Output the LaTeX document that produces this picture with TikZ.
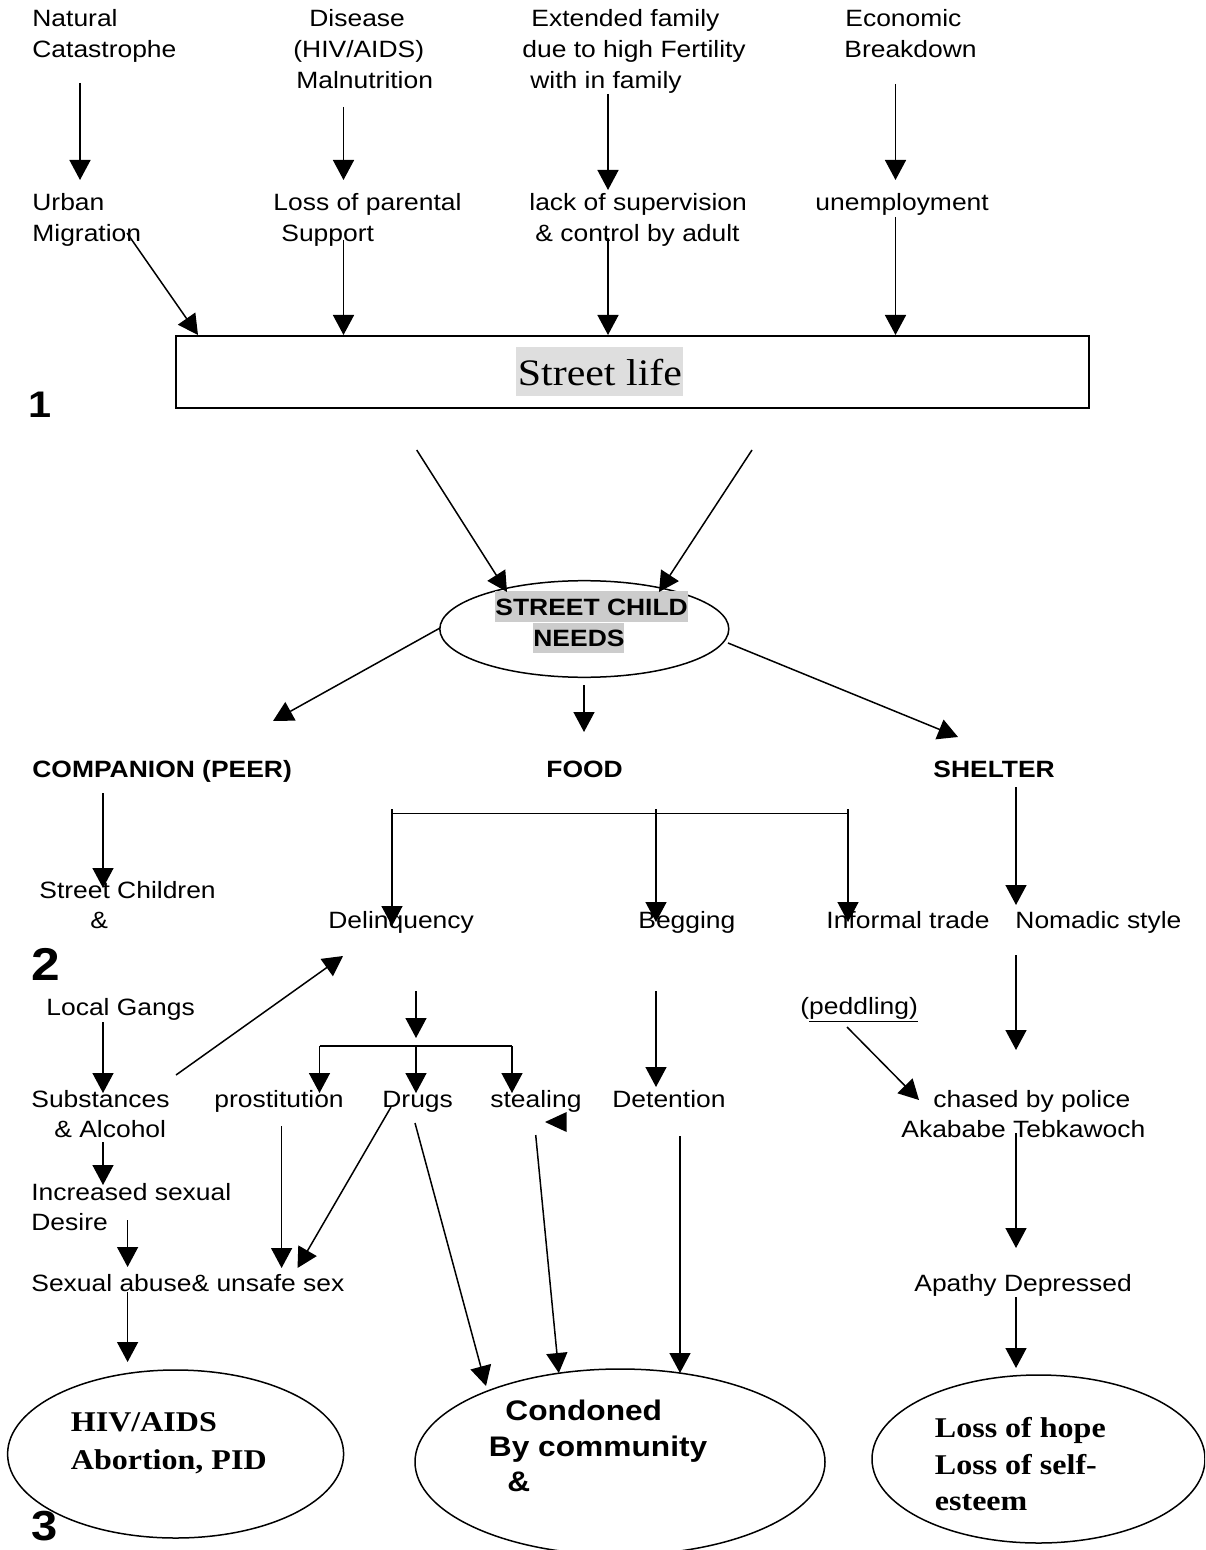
\documentclass[tikz,border=0pt]{standalone}
\usepackage{fontspec}
\usetikzlibrary{arrows.meta,shapes.geometric}
\newfontfamily\sansf{Liberation Sans}[FakeStretch=1.12]
\newfontfamily\serff{Liberation Serif}[FakeStretch=1.12]
\definecolor{hlight}{RGB}{222,222,222}
\definecolor{hdark}{RGB}{204,204,204}

\begin{document}
\begin{tikzpicture}[x=0.5pt,y=-0.5pt,
  lab/.style={anchor=base west,inner sep=0pt,font=\sansf\fontsize{11.8}{14}\selectfont},
  head/.style={anchor=base west,inner sep=0pt,font=\sansf\bfseries\fontsize{11.8}{14}\selectfont},
  big/.style={anchor=base west,inner sep=0pt,font=\serff\bfseries\fontsize{14.3}{17}\selectfont},
  bigsans/.style={anchor=base west,inner sep=0pt,font=\sansf\bfseries\fontsize{14.15}{17}\selectfont},
  num/.style={anchor=base west,inner sep=0pt},
  conn/.style={line width=0.75pt,-{Triangle[width=10.5pt,length=10pt]}},
  plain/.style={line width=0.75pt},
  outcome/.style={draw,ellipse,line width=0.75pt,inner sep=0pt}
]
\useasboundingbox (0,0) rectangle (1205,1550);
\fill[white] (0,0) rectangle (1205,1550);
\clip (0,0) rectangle (1205,1550);

% ---------- causes ----------
\node[lab] (nat1) at (32,26.5) {Natural};
\node[lab] (nat2) at (32,57.5) {Catastrophe};
\node[lab] (dis1) at (309,26.5) {Disease};
\node[lab] (dis2) at (293,57.5) {(HIV/AIDS)};
\node[lab] (dis3) at (296,88.5) {Malnutrition};
\node[lab] (ext1) at (531,26.5) {Extended family};
\node[lab] (ext2) at (522,57.5) {due to high Fertility};
\node[lab] (ext3) at (530,88.5) {with in family};
\node[lab] (eco1) at (845,26.5) {Economic};
\node[lab] (eco2) at (844,57.5) {Breakdown};

\node[lab] (urb1) at (32,211) {Urban};
\node[lab] (urb2) at (32,242) {Migration};
\node[lab] (los1) at (273,211) {Loss of parental};
\node[lab] (los2) at (281,242) {Support};
\node[lab] (lac1) at (529,211) {lack of supervision};
\node[lab] (lac2) at (535,242) {\& control by adult};
\node[lab] (une) at (815,211) {unemployment};

\path (80,83) coordinate (natOut) (80,180) coordinate (urbIn)
      (343.5,107) coordinate (disOut) (343.5,180) coordinate (losIn)
      (608,94) coordinate (extOut) (608,190) coordinate (lacIn)
      (895.5,84) coordinate (ecoOut) (895.5,180) coordinate (uneIn);
\draw[conn] (natOut) -- (urbIn);
\draw[conn] (disOut) -- (losIn);
\draw[conn] (extOut) -- (lacIn);
\draw[conn] (ecoOut) -- (uneIn);

% ---------- street life ----------
\node[draw,line width=1pt,minimum width=456.5pt,minimum height=36pt,inner sep=0pt]
  (box) at (632.5,372) {};
\node[anchor=base west,inner xsep=0.75pt,inner ysep=0pt,fill=hlight,
  text height=19.5pt,text depth=5pt,font=\serff\fontsize{18.7}{20}\selectfont]
  (sl) at (516,386) {Street life};
\node[num,font=\sansf\bfseries\fontsize{18.5}{20}\selectfont] (n1) at (28.5,418) {1};

\path (127,233) coordinate (urbOut) (198,335) coordinate (boxA)
      (343.5,240) coordinate (losOut) (343.5,335) coordinate (boxB)
      (608,238) coordinate (lacOut) (608,335) coordinate (boxC)
      (895.5,217) coordinate (uneOut) (895.5,335) coordinate (boxD);
\draw[conn] (urbOut) -- (boxA);
\draw[conn] (losOut) -- (boxB);
\draw[conn] (lacOut) -- (boxC);
\draw[conn] (uneOut) -- (boxD);

% ---------- needs ----------
\node[outcome,minimum width=144.5pt,minimum height=48.3pt] (needs) at (584.3,629) {};
\node[anchor=base west,inner sep=0pt,fill=hdark,text height=12.25pt,text depth=3.5pt,
  font=\sansf\bfseries\fontsize{11.8}{14}\selectfont] (scn1) at (495,615) {STREET CHILD};
\node[anchor=base west,inner sep=0pt,fill=hdark,text height=11.75pt,text depth=3.25pt,
  font=\sansf\bfseries\fontsize{11.8}{14}\selectfont] (scn2) at (533,646.5) {NEEDS};

\path (416.7,450) coordinate (boxL) (507,592) coordinate (needsL)
      (752,450) coordinate (boxR) (659,592) coordinate (needsR);
\draw[conn] (boxL) -- (needsL);
\draw[conn] (boxR) -- (needsR);

\node[head] (comp) at (32,777) {COMPANION (PEER)};
\node[head] (food) at (546,777) {FOOD};
\node[head] (shel) at (933,777) {SHELTER};

\path (440,628) coordinate (needsW) (273,721) coordinate (compIn)
      (584,685) coordinate (needsS) (584,732) coordinate (foodIn)
      (728,643) coordinate (needsE) (958,737) coordinate (shelIn);
\draw[conn] (needsW) -- (compIn);
\draw[conn] (needsS) -- (foodIn);
\draw[conn] (needsE) -- (shelIn);

% ---------- companion branch ----------
\node[lab] (sc1) at (39,898) {Street Children};
\node[lab] (sc2) at (90,928) {\&};
\node[num,font=\sansf\bfseries\fontsize{23}{25}\selectfont] (n2) at (31,980) {2};
\node[lab] (gang) at (46,1015) {Local Gangs};
\node[lab] (subs1) at (31,1107) {Substances};
\node[lab] (subs2) at (54,1137.5) {\& Alcohol};
\node[lab] (inc1) at (31,1200) {Increased sexual};
\node[lab] (inc2) at (31,1230) {Desire};
\node[lab] (abuse) at (31,1291.5) {Sexual abuse\& unsafe sex};

\path (103,793) coordinate (compOut) (103,888) coordinate (scIn)
      (103,1022) coordinate (gangOut) (103,1093) coordinate (subsIn)
      (103,1142) coordinate (subsOut) (103,1185) coordinate (incIn)
      (127.6,1220) coordinate (incOut) (127.6,1267) coordinate (abuseIn)
      (127.6,1292) coordinate (abuseOut) (127.6,1362) coordinate (hivIn)
      (176,1075) coordinate (subsNE) (343,956) coordinate (delqIn);
\draw[conn] (compOut) -- (scIn);
\draw[conn] (gangOut) -- (subsIn);
\draw[conn] (subsOut) -- (incIn);
\draw[conn] (incOut) -- (abuseIn);
\draw[conn] (abuseOut) -- (hivIn);
\draw[conn] (subsNE) -- (delqIn);

% ---------- food branch ----------
\node[lab] (delq) at (328,928) {Delinquency};
\node[lab] (beg) at (638,928) {Begging};
\node[lab] (inf) at (826,928) {Informal trade};
\node[lab] (ped) at (800,1014) {(\underline{peddling)}};

\path (392,813.5) coordinate (fbL) (656,813.5) coordinate (fbM) (848,813.5) coordinate (fbR)
      (392,809) coordinate (fbLt) (656,809) coordinate (fbMt) (848,809) coordinate (fbRt)
      (392,926) coordinate (delqTop) (656,922) coordinate (begTop) (848,922) coordinate (infTop);
\draw[plain] (fbL) -- (fbR);
\draw[conn] (fbLt) -- (delqTop);
\draw[conn] (fbMt) -- (begTop);
\draw[conn] (fbRt) -- (infTop);

\node[lab] (pros) at (214,1107) {prostitution};
\node[lab] (drug) at (382,1107) {Drugs};
\node[lab] (steal) at (490,1107) {stealing};
\node[lab] (det) at (612,1107) {Detention};

\path (416,991) coordinate (delqOut) (416,1038) coordinate (dbIn)
      (319.5,1046) coordinate (dbL) (416,1046) coordinate (dbM) (512,1046) coordinate (dbR)
      (319.5,1093) coordinate (prosIn) (416,1093) coordinate (drugIn) (512,1093) coordinate (stealIn);
\draw[conn] (delqOut) -- (dbIn);
\draw[plain] (dbL) -- (dbR);
\draw[conn] (dbL) -- (prosIn);
\draw[conn] (dbM) -- (drugIn);
\draw[conn] (dbR) -- (stealIn);

% loose arrow head beside "stealing"
\fill (545,1122) -- (566.6,1112) -- (566.6,1132) -- cycle;

\path (656,991) coordinate (begOut) (656,1087) coordinate (detIn)
      (281.6,1126) coordinate (prosOut) (281.6,1268) coordinate (abuseA)
      (391,1107) coordinate (drugSW) (297.5,1268) coordinate (abuseB)
      (415,1123) coordinate (drugS) (486,1386) coordinate (condA)
      (535.7,1135) coordinate (stealS) (558.8,1373) coordinate (condB)
      (680,1136) coordinate (detOut) (680,1373) coordinate (condC);
\draw[conn] (begOut) -- (detIn);
\draw[conn] (prosOut) -- (abuseA);
\draw[conn] (drugSW) -- (abuseB);
\draw[conn] (drugS) -- (condA);
\draw[conn] (stealS) -- (condB);
\draw[conn] (detOut) -- (condC);

% ---------- shelter branch ----------
\node[lab] (nom) at (1015,928) {Nomadic style};
\node[lab] (chase1) at (933,1107) {chased by police};
\node[lab] (chase2) at (901,1137.5) {Akababe Tebkawoch};
\node[lab] (apa) at (914,1291.5) {Apathy Depressed};

\path (1016,787) coordinate (shelOut) (1016,905) coordinate (nomIn)
      (1016,955) coordinate (nomOut) (1016,1050) coordinate (chaseIn)
      (847,1027) coordinate (pedOut) (919,1100) coordinate (chaseW)
      (1016,1133) coordinate (chaseOut) (1016,1248) coordinate (apaIn)
      (1016,1297) coordinate (apaOut) (1016,1368) coordinate (hopeIn);
\draw[conn] (shelOut) -- (nomIn);
\draw[conn] (nomOut) -- (chaseIn);
\draw[conn] (pedOut) -- (chaseW);
\draw[conn] (chaseOut) -- (apaIn);
\draw[conn] (apaOut) -- (hopeIn);

% ---------- outcomes ----------
\node[outcome,minimum width=168pt,minimum height=84pt] (hiv) at (175.6,1454) {};
\node[outcome,minimum width=205pt,minimum height=93pt] (cond) at (620,1462) {};
\node[outcome,minimum width=166.5pt,minimum height=84pt] (hope) at (1038.5,1459) {};

\node[big] (hiv1) at (70.5,1431.5) {HIV/AIDS};
\node[big] (hiv2) at (70.5,1469) {Abortion, PID};
\node[bigsans] (cond1) at (505,1420) {Condoned};
\node[bigsans] (cond2) at (488.5,1456.5) {By community};
\node[bigsans] (cond3) at (507,1491.5) {\&};
\node[big] (hope1) at (934.5,1437) {Loss of hope};
\node[big] (hope2) at (934.5,1474) {Loss of self-};
\node[big] (hope3) at (934.5,1510) {esteem};
\node[num,font=\sansf\bfseries\fontsize{21}{23}\selectfont] (n3) at (31,1540) {3};
\end{tikzpicture}
\end{document}
